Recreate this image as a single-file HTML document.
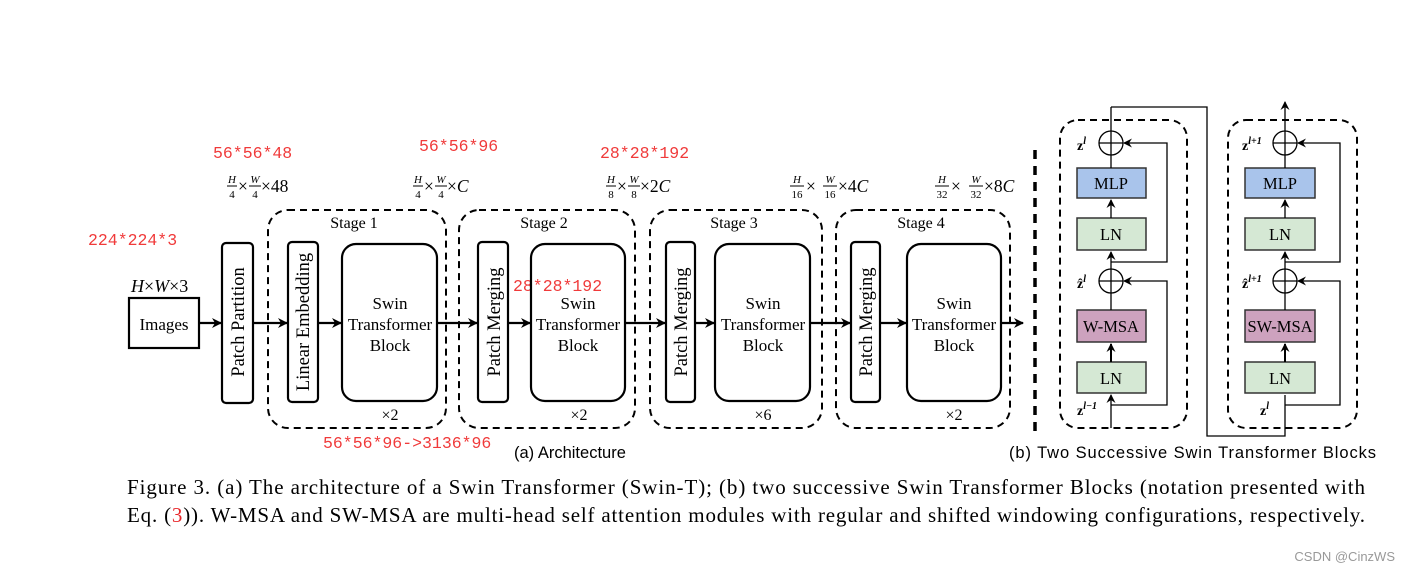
<!DOCTYPE html>
<html><head><meta charset="utf-8"><style>
html,body{margin:0;padding:0;background:#fff;}
svg{display:block;}
.s{font-family:"Liberation Serif",serif;}
.r{font-family:"Liberation Mono","Noto Sans CJK SC",monospace;fill:#f03a3a;font-size:16.5px;}
</style></head><body>
<svg width="1408" height="573" viewBox="0 0 1408 573" xmlns="http://www.w3.org/2000/svg">
<defs>
<marker id="a" markerWidth="10" markerHeight="10" refX="9" refY="5" orient="auto" markerUnits="userSpaceOnUse"><path d="M0,0 L10,5 L0,10 L3,5z" fill="#000"/></marker>
<marker id="b" markerWidth="9" markerHeight="9" refX="8" refY="4.5" orient="auto" markerUnits="userSpaceOnUse"><path d="M0,0 L9,4.5 L0,9 L3,4.5z" fill="#000"/></marker>
</defs>
<g class="s" fill="#000">
<text class="r" x="213" y="158">56*56*48</text>
<text class="r" x="419" y="151">56*56*96</text>
<text class="r" x="600" y="158">28*28*192</text>
<text class="r" x="88" y="245">224*224*3</text>
<text class="r" x="513" y="291">28*28*192</text>
<text class="r" x="323" y="448">56*56*96-&gt;3136*96</text>

<g font-size="11" font-style="italic" text-anchor="middle">
<text x="232" y="183">H</text><text x="232" y="198" font-style="normal">4</text>
<text x="255" y="183">W</text><text x="255" y="198" font-style="normal">4</text>
<text x="418" y="183">H</text><text x="418" y="198" font-style="normal">4</text>
<text x="441" y="183">W</text><text x="441" y="198" font-style="normal">4</text>
<text x="611" y="183">H</text><text x="611" y="198" font-style="normal">8</text>
<text x="634" y="183">W</text><text x="634" y="198" font-style="normal">8</text>
<text x="797" y="183">H</text><text x="797" y="198" font-style="normal">16</text>
<text x="830" y="183">W</text><text x="830" y="198" font-style="normal">16</text>
<text x="942" y="183">H</text><text x="942" y="198" font-style="normal">32</text>
<text x="976" y="183">W</text><text x="976" y="198" font-style="normal">32</text>
</g>
<g stroke="#000" stroke-width="1">
<line x1="227" y1="186" x2="237" y2="186"/><line x1="249" y1="186" x2="261" y2="186"/>
<line x1="413" y1="186" x2="423" y2="186"/><line x1="435" y1="186" x2="447" y2="186"/>
<line x1="606" y1="186" x2="616" y2="186"/><line x1="628" y1="186" x2="640" y2="186"/>
<line x1="790" y1="186" x2="804" y2="186"/><line x1="823" y1="186" x2="837" y2="186"/>
<line x1="935" y1="186" x2="949" y2="186"/><line x1="969" y1="186" x2="983" y2="186"/>
</g>
<g font-size="17.5">
<text x="238" y="192">×</text><text x="261" y="192">×48</text>
<text x="424" y="192">×</text><text x="447" y="192">×<tspan font-style="italic">C</tspan></text>
<text x="617" y="192">×</text><text x="640" y="192">×2<tspan font-style="italic">C</tspan></text>
<text x="806" y="192">×</text><text x="838" y="192">×4<tspan font-style="italic">C</tspan></text>
<text x="951" y="192">×</text><text x="984" y="192">×8<tspan font-style="italic">C</tspan></text>
</g>
<text x="131" y="292" font-size="18"><tspan font-style="italic">H</tspan>×<tspan font-style="italic">W</tspan>×3</text>

<g fill="none" stroke="#000" stroke-width="2" stroke-dasharray="7,5">
<rect x="268" y="210" width="178" height="218" rx="20"/>
<rect x="459" y="210" width="176" height="218" rx="20"/>
<rect x="650" y="210" width="172" height="218" rx="20"/>
<rect x="836" y="210" width="174" height="218" rx="20"/>
<line x1="1035" y1="150" x2="1035" y2="432" stroke-width="3.5" stroke-dasharray="9,7"/>
<rect x="1060" y="120" width="127" height="308" rx="18"/>
<rect x="1228" y="120" width="129" height="308" rx="18"/>
</g>
<g font-size="16" text-anchor="middle">
<text x="354" y="228">Stage 1</text><text x="544" y="228">Stage 2</text>
<text x="734" y="228">Stage 3</text><text x="921" y="228">Stage 4</text>
<text x="390" y="420">×2</text><text x="579" y="420">×2</text>
<text x="763" y="420">×6</text><text x="954" y="420">×2</text>
</g>

<g fill="none" stroke="#000" stroke-width="2.2">
<rect x="129" y="298" width="70" height="50"/>
<rect x="222" y="243" width="31" height="160" rx="4"/>
<rect x="288" y="242" width="30" height="160" rx="4"/>
<rect x="342" y="244" width="95" height="157" rx="14"/>
<rect x="478" y="242" width="30" height="160" rx="4"/>
<rect x="531" y="244" width="94" height="157" rx="14"/>
<rect x="666" y="242" width="29" height="160" rx="4"/>
<rect x="715" y="244" width="95" height="157" rx="14"/>
<rect x="851" y="242" width="29" height="160" rx="4"/>
<rect x="907" y="244" width="94" height="157" rx="14"/>
</g>
<text x="164" y="330" font-size="17" text-anchor="middle">Images</text>
<g font-size="18.5" text-anchor="middle">
<text transform="translate(244,322) rotate(-90)">Patch Partition</text>
<text transform="translate(309,322) rotate(-90)">Linear Embedding</text>
<text transform="translate(500,322) rotate(-90)">Patch Merging</text>
<text transform="translate(687,322) rotate(-90)">Patch Merging</text>
<text transform="translate(872,322) rotate(-90)">Patch Merging</text>
<g font-size="17">
<text x="390" y="309">Swin</text><text x="390" y="330">Transformer</text><text x="390" y="351">Block</text>
<text x="578" y="309">Swin</text><text x="578" y="330">Transformer</text><text x="578" y="351">Block</text>
<text x="763" y="309">Swin</text><text x="763" y="330">Transformer</text><text x="763" y="351">Block</text>
<text x="954" y="309">Swin</text><text x="954" y="330">Transformer</text><text x="954" y="351">Block</text>
</g>
</g>
<g stroke="#000" stroke-width="2.2" marker-end="url(#a)">
<line x1="199" y1="323" x2="221" y2="323"/>
<line x1="253" y1="323" x2="287" y2="323"/>
<line x1="318" y1="323" x2="341" y2="323"/>
<line x1="437" y1="323" x2="477" y2="323"/>
<line x1="508" y1="323" x2="530" y2="323"/>
<line x1="625" y1="323" x2="665" y2="323"/>
<line x1="695" y1="323" x2="714" y2="323"/>
<line x1="810" y1="323" x2="850" y2="323"/>
<line x1="880" y1="323" x2="906" y2="323"/>
<line x1="1001" y1="323" x2="1023" y2="323"/>
</g>
<text x="514" y="458" font-family="Liberation Sans,sans-serif" font-size="16.5">(a) Architecture</text>
<text x="1009" y="458" font-family="Liberation Sans,sans-serif" font-size="16.5" textLength="367">(b) Two Successive Swin Transformer Blocks</text>

<g stroke="#333" stroke-width="1.5">
<rect x="1077" y="168" width="69" height="30" fill="#a9c4eb"/>
<rect x="1077" y="218" width="69" height="32" fill="#d5e8d4"/>
<rect x="1077" y="310" width="69" height="32" fill="#cda2be"/>
<rect x="1077" y="362" width="69" height="31" fill="#d5e8d4"/>
<rect x="1245" y="168" width="70" height="30" fill="#a9c4eb"/>
<rect x="1245" y="218" width="70" height="32" fill="#d5e8d4"/>
<rect x="1245" y="310" width="70" height="32" fill="#cda2be"/>
<rect x="1245" y="362" width="70" height="31" fill="#d5e8d4"/>
</g>
<g font-size="16.5" text-anchor="middle">
<text x="1111" y="189">MLP</text><text x="1111" y="240">LN</text><text x="1111" y="332">W-MSA</text><text x="1111" y="384">LN</text>
<text x="1280" y="189">MLP</text><text x="1280" y="240">LN</text><text x="1280" y="332">SW-MSA</text><text x="1280" y="384">LN</text>
</g>
<g fill="none" stroke="#000" stroke-width="1.3">
<circle cx="1111" cy="143" r="12"/><line x1="1099" y1="143" x2="1123" y2="143"/><line x1="1111" y1="131" x2="1111" y2="155"/>
<circle cx="1111" cy="281" r="12"/><line x1="1099" y1="281" x2="1123" y2="281"/><line x1="1111" y1="269" x2="1111" y2="293"/>
<circle cx="1285" cy="143" r="12"/><line x1="1273" y1="143" x2="1297" y2="143"/><line x1="1285" y1="131" x2="1285" y2="155"/>
<circle cx="1285" cy="281" r="12"/><line x1="1273" y1="281" x2="1297" y2="281"/><line x1="1285" y1="269" x2="1285" y2="293"/>
<line x1="1111" y1="131" x2="1111" y2="107"/>
<polyline points="1111,107 1207,107 1207,436 1285,436 1285,395"/>
<line x1="1111" y1="168" x2="1111" y2="155"/>
<line x1="1111" y1="269" x2="1111" y2="252" marker-end="url(#b)"/>
<line x1="1111" y1="218" x2="1111" y2="200" marker-end="url(#b)"/>
<line x1="1111" y1="310" x2="1111" y2="293"/>
<line x1="1111" y1="362" x2="1111" y2="344" marker-end="url(#b)" stroke-width="2"/>
<line x1="1111" y1="428" x2="1111" y2="395" marker-end="url(#b)"/>
<polyline points="1111,405 1167,405 1167,281 1124,281" marker-end="url(#b)"/>
<polyline points="1111,262 1167,262 1167,143 1124,143" marker-end="url(#b)"/>
<line x1="1285" y1="131" x2="1285" y2="102" marker-end="url(#b)"/>
<line x1="1285" y1="168" x2="1285" y2="155"/>
<line x1="1285" y1="269" x2="1285" y2="252" marker-end="url(#b)"/>
<line x1="1285" y1="218" x2="1285" y2="200" marker-end="url(#b)"/>
<line x1="1285" y1="310" x2="1285" y2="293"/>
<line x1="1285" y1="362" x2="1285" y2="344" marker-end="url(#b)" stroke-width="2"/>
<polyline points="1285,405 1340,405 1340,281 1298,281" marker-end="url(#b)"/>
<polyline points="1285,262 1340,262 1340,143 1298,143" marker-end="url(#b)"/>
</g>
<g font-size="14" font-weight="bold">
<text x="1077" y="150">z<tspan font-size="10" font-style="italic" dy="-6">l</tspan></text>
<text x="1077" y="288">ẑ<tspan font-size="10" font-style="italic" dy="-6">l</tspan></text>
<text x="1077" y="415">z<tspan font-size="10" font-style="italic" dy="-6">l−1</tspan></text>
<text x="1242" y="150">z<tspan font-size="10" font-style="italic" dy="-6">l+1</tspan></text>
<text x="1242" y="288">ẑ<tspan font-size="10" font-style="italic" dy="-6">l+1</tspan></text>
<text x="1260" y="415">z<tspan font-size="10" font-style="italic" dy="-6">l</tspan></text>
</g>

<g font-size="21">
<text x="127" y="494" textLength="1238" lengthAdjust="spacing">Figure 3. (a) The architecture of a Swin Transformer (Swin-T); (b) two successive Swin Transformer Blocks (notation presented with</text>
<text x="127" y="522" textLength="1238" lengthAdjust="spacing">Eq. (<tspan fill="#e8262a">3</tspan>)). W-MSA and SW-MSA are multi-head self attention modules with regular and shifted windowing configurations, respectively.</text>
</g>
<text x="1395" y="561" font-family="Liberation Sans,sans-serif" font-size="13" fill="#999" text-anchor="end">CSDN @CinzWS</text>
</g>
</svg>
</body></html>
